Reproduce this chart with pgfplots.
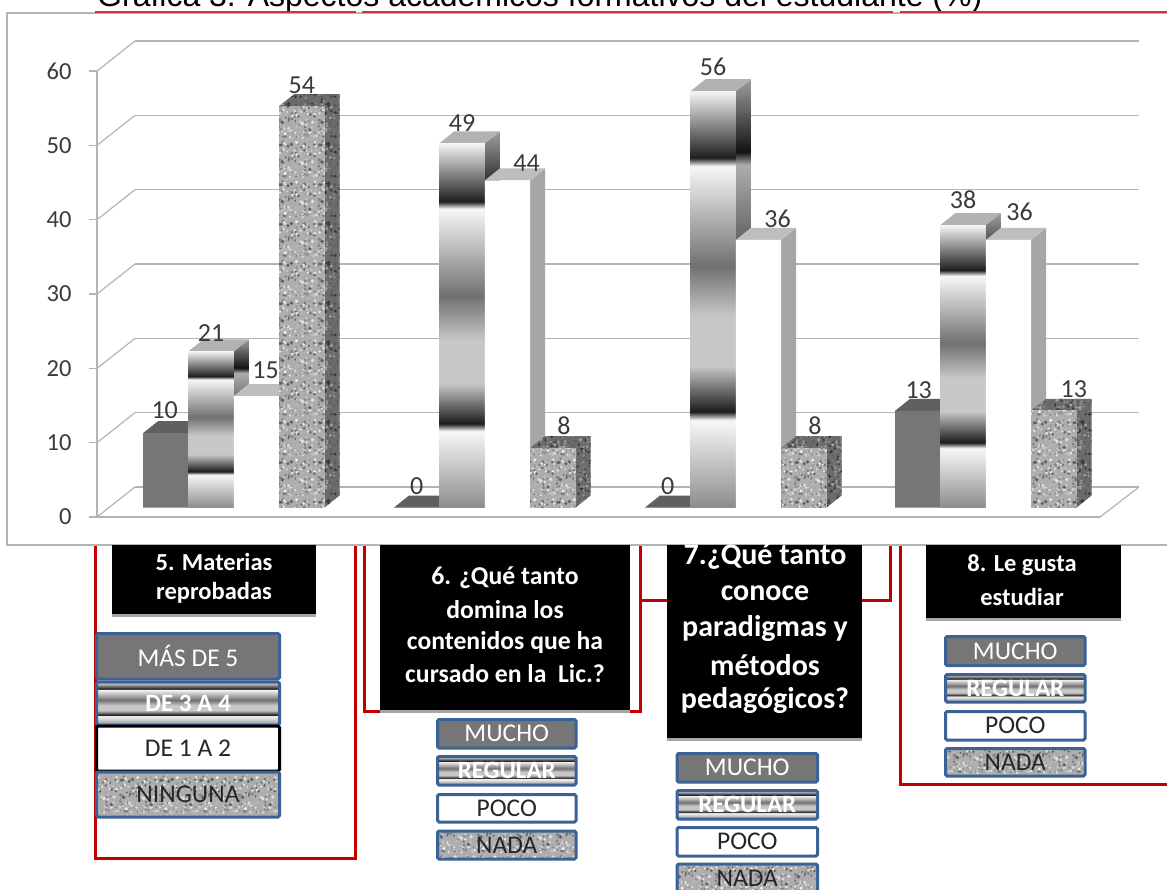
\documentclass[border=0pt]{standalone}
\usepackage{fontspec}
\setmainfont{Carlito}
\newfontfamily\titlefont{Liberation Sans}
\usepackage{pgfplots}
\pgfplotsset{compat=1.18}
\usetikzlibrary{patterns}

\definecolor{gridgray}{HTML}{B4B4B4}
\definecolor{labeltext}{HTML}{3A3A3A}
\definecolor{boxred}{HTML}{C00000}
\definecolor{boxblue}{HTML}{3A6296}
\definecolor{muchofront}{HTML}{767676}
\definecolor{muchotop}{HTML}{606060}
\definecolor{pocotop}{HTML}{BEBEBE}
\definecolor{pocoside}{HTML}{A6A6A6}
\definecolor{regulartop}{HTML}{B2B2B2}

% Banded metallic fill: the 25bp--75bp range is what covers the filled path
\pgfdeclareverticalshading{bands}{100bp}{%
  rgb(0bp)=(.55,.55,.55); rgb(25bp)=(.55,.55,.55);
  rgb(35.5bp)=(.97,.97,.97); rgb(36.5bp)=(.11,.11,.11);
  rgb(42bp)=(.78,.78,.78); rgb(48bp)=(.78,.78,.78);
  rgb(54bp)=(.44,.44,.44); rgb(66bp)=(.97,.97,.97);
  rgb(67bp)=(.12,.12,.12); rgb(75bp)=(.96,.96,.96); rgb(100bp)=(.96,.96,.96)}
\pgfdeclareverticalshading{bandsside}{100bp}{%
  rgb(0bp)=(.30,.30,.30); rgb(25bp)=(.30,.30,.30);
  rgb(35.5bp)=(.62,.62,.62); rgb(36.5bp)=(.08,.08,.08);
  rgb(42bp)=(.55,.55,.55); rgb(48bp)=(.55,.55,.55);
  rgb(54bp)=(.32,.32,.32); rgb(65bp)=(.68,.68,.68);
  rgb(66.5bp)=(.07,.07,.07); rgb(75bp)=(.62,.62,.62); rgb(100bp)=(.62,.62,.62)}

% Speckled stone tiles, a lighter one for fronts and a darker one for sides;
% the step is a little under the tile so that neighbouring tiles overlap
\newcommand{\stonetile}[5]{%
  \pgfdeclarepatterninherentlycolored{#1}{\pgfpointorigin}{\pgfqpoint{40pt}{40pt}}{\pgfqpoint{39.7pt}{39.7pt}}{%
    \pgfmathsetseed{#2}%
    \definecolor{stonebase}{gray}{#3}\pgfsetfillcolor{stonebase}%
    \pgfpathrectangle{\pgfpointorigin}{\pgfqpoint{40pt}{40pt}}\pgfusepath{fill}%
    \foreach \i in {1,...,170}{%
      \pgfmathsetmacro\sx{40*rnd}\pgfmathsetmacro\sy{40*rnd}%
      \pgfmathsetmacro\sr{.7+1.2*rnd}\pgfmathsetmacro\sg{#4+(#5-#4)*rnd}%
      \definecolor{stonespeck}{gray}{\sg}\pgfsetfillcolor{stonespeck}%
      \pgfpathcircle{\pgfqpoint{\sx pt}{\sy pt}}{\sr pt}\pgfusepath{fill}}%
  }}
\stonetile{granite}{41}{.68}{.36}{.96}
\stonetile{granitedark}{77}{.42}{.16}{.66}

\tikzset{
  muchofrontst/.style={fill=muchofront,draw=none},
  muchotopst/.style={fill=muchotop,draw=none},
  regfrontst/.style={shade,shading=bands,draw=none},
  regtopst/.style={fill=regulartop,draw=none},
  regsidest/.style={shade,shading=bandsside,draw=none},
  pocofrontst/.style={fill=white,draw=none},
  pocotopst/.style={fill=pocotop,draw=none},
  pocosidest/.style={fill=pocoside,draw=none},
  stonefrontst/.style={pattern=granite,draw=none},
  stonedarkst/.style={pattern=granitedark,draw=none},
}

% One bar with a top and a side face: left edge, value, three face styles,
% label shift sideways and upwards
\newcommand{\solidbar}[7]{%
  \pgfmathsetmacro\xb{#1+45.4}%
  \pgfmathsetmacro\xc{#1+60.4}%
  \pgfmathsetmacro\xa{#1+15}%
  \pgfmathsetmacro\yt{#2+1.615}%
  \pgfmathsetmacro\xl{#1+22.7+#6}%
  \addplot[#5] coordinates {(\xb,0)(\xb,#2)(\xc,\yt)(\xc,1.615)(\xb,0)};
  \addplot[#4] coordinates {(#1,#2)(\xa,\yt)(\xc,\yt)(\xb,#2)(#1,#2)};
  \addplot[#3] coordinates {(#1,0)(#1,#2)(\xb,#2)(\xb,0)(#1,0)};
  \edef\barlabel{\noexpand\node[inner sep=0pt,text=labeltext,font=\noexpand\fontsize{26}{26}\noexpand\selectfont,yshift=#7pt] at (axis cs:\xl,#2) {#2};}%
  \barlabel
}
\newcommand{\muchobar}[4]{\solidbar{#1}{#2}{muchofrontst}{muchotopst}{muchotopst}{#3}{#4}}
\newcommand{\regbar}[4]{\solidbar{#1}{#2}{regfrontst}{regtopst}{regsidest}{#3}{#4}}
\newcommand{\pocobar}[4]{\solidbar{#1}{#2}{pocofrontst}{pocotopst}{pocosidest}{#3}{#4}}
\newcommand{\stonebar}[4]{\solidbar{#1}{#2}{stonefrontst}{stonedarkst}{stonedarkst}{#3}{#4}}

% Legend entry: corners, box style, text style, text
\newcommand{\legbox}[7]{%
  \path[line width=3pt,rounded corners=1.5pt,#5] (#1,#2) rectangle (#3,#4);
  \node[inner sep=0pt,font=\fontsize{25.5}{25.5}\selectfont,#6] at ({(#1+#3)/2},{(#2+#4)/2}) {#7};
}
\newcommand{\blackbox}[5]{%
  \fill[gray!70] (#1,#4) rectangle (#3,#4+2.5);
  \fill[black] (#1,#2) rectangle (#3,#4);
  #5
}
\newcommand{\boxline}[4][24.5]{\node[inner sep=0pt,text=white,font=\fontsize{#1}{#1}\selectfont\bfseries] at (#2,#3) {#4};}

\begin{document}
\begin{tikzpicture}[x=1pt,y=-1pt]
\path[use as bounding box,clip] (0,0) rectangle (1167,889);
\fill[white] (0,0) rectangle (1167,889);

% Heading, cut by the upper edge of the sheet
\node[anchor=base west,inner sep=0pt,font=\titlefont\fontsize{32}{32}\selectfont,text=black] at (97,6)
  {Gráfica 3. Aspectos académicos formativos del estudiante (\%)};

% Red connector frames
\draw[boxred,line width=3pt] (95,540) -- (95,858) -- (355,858) -- (355,540);
\draw[boxred,line width=3pt] (364,540) -- (364,711) -- (640,711) -- (640,540);
\draw[boxred,line width=3pt] (640,600) -- (890,600) -- (890,540);
\draw[boxred,line width=3pt] (900,540) -- (900,784) -- (1170,784);

% Chart sheet
\draw[gridgray,fill=white,line width=1.2pt] (7,13) rectangle (1180,545);
\draw[red!55!gray,line width=2pt] (95,12) -- (356,12) (362,12) -- (893,12) (900,12) -- (1167,12);

% Back wall with its gridlines
\begin{axis}[
  at={(135pt,-487pt)},anchor=south west,scale only axis,width=1004pt,height=446pt,
  xmin=0,xmax=1,ymin=0,ymax=60,ytick={0,10,...,60},xtick=\empty,
  ymajorgrids,grid style={gridgray,line width=1.3pt},
  axis line style={draw=none},major tick length=0pt,yticklabels={},
]
\end{axis}

% Floor and wall edges joining the front axis to the back wall
\foreach \v in {0,10,...,60}
  \draw[gridgray,line width=1.2pt] (97,{517-\v*7.433}) -- (135,{487-\v*7.433});
\draw[gridgray,line width=1.2pt] (1100,517) -- (1139,487);

% Front axis with the percentage scale
\begin{axis}[
  at={(97pt,-517pt)},anchor=south west,scale only axis,width=1003pt,height=446pt,
  xmin=0,xmax=1,ymin=0,ymax=60,ytick={0,10,...,60},xtick=\empty,
  axis y line=left,axis x line=bottom,axis line style={gridgray,line width=1.2pt,-},
  tick style={gridgray,line width=1.2pt},tick align=outside,major tick length=8pt,
  yticklabel style={/pgf/number format/assume math mode=true,font=\fontsize{24.5}{24.5}\selectfont,text=labeltext,xshift=-14pt},
]
\end{axis}

% Bars of the four questions, on a baseline in front of the floor
\begin{axis}[
  at={(0pt,-507.5pt)},anchor=south west,scale only axis,width=1167pt,height=446pt,
  xmin=0,xmax=1167,ymin=0,ymax=60,axis lines=none,clip=false,
]
\muchobar{143}{10}{-1}{23}
\regbar{188.4}{21}{0}{18}
\pocobar{233.8}{15}{9}{26}
\stonebar{279.2}{54}{0}{21}

\muchobar{394}{0}{0}{21.5}
\regbar{439.4}{49}{0}{20}
\pocobar{484.8}{44}{19}{17}
\stonebar{530.2}{8}{11}{22}

\muchobar{645}{0}{0}{21.5}
\regbar{690.4}{56}{0}{24}
\pocobar{735.8}{36}{19}{21.5}
\stonebar{781.2}{8}{11}{22}

\muchobar{895}{13}{1}{21}
\regbar{940.4}{38}{0}{25}
\pocobar{985.8}{36}{11}{28}
\stonebar{1031.2}{13}{20}{22}
\end{axis}

% Question headings
\blackbox{112}{545}{316}{614}{%
  \boxline{214}{562}{5. Materias}\boxline{214}{593}{reprobadas}}
\blackbox{380}{545}{630}{710}{%
  \boxline[25.7]{505}{578}{6. ¿Qué tanto}\boxline[25.7]{505}{610}{domina los}%
  \boxline[25.7]{505}{642}{contenidos que ha}\boxline[25.7]{505}{674}{cursado en la\ \ Lic.?}}
\blackbox{667}{545}{862}{738}{%
  \boxline[30]{765}{557}{7.¿Qué tanto}\boxline[30]{765}{593}{conoce}%
  \boxline[30]{765}{629}{paradigmas y}\boxline[30]{765}{665}{métodos}\boxline[30]{765}{701}{pedagógicos?}}
\blackbox{925.5}{545}{1121}{618}{%
  \boxline{1022}{565}{8. Le gusta}\boxline{1022}{597}{estudiar}}

% Keys below each heading
\tikzset{
  kmucho/.style={fill=muchofront,draw=boxblue},
  kreg/.style={shade,shading=bands,draw=boxblue},
  kpoco/.style={fill=white,draw=boxblue},
  knada/.style={pattern=granite,draw=boxblue},
  tw/.style={text=white},
  twb/.style={text=white,font=\fontsize{25}{25}\selectfont\bfseries},
  td/.style={text=black!85},
}
\legbox{96.5}{633.5}{279.5}{679}{kmucho}{tw}{MÁS DE 5}
\legbox{96.5}{682}{279.5}{725}{kreg}{twb}{DE 3 A 4}
\legbox{96.5}{726}{279.5}{771}{fill=white,draw=black}{td}{DE 1 A 2}
\legbox{96.5}{772}{279.5}{817}{knada}{td}{NINGUNA}

\legbox{437.5}{719.5}{576}{748}{kmucho}{tw}{MUCHO}
\legbox{437.5}{756.5}{576}{785}{kreg}{twb}{REGULAR}
\legbox{437.5}{794.5}{576}{822}{kpoco}{td}{POCO}
\legbox{437.5}{831}{576}{859}{knada}{td}{NADA}

\legbox{677}{753.5}{817.5}{782}{kmucho}{tw}{MUCHO}
\legbox{677}{790.5}{817.5}{819}{kreg}{twb}{REGULAR}
\legbox{677}{827.5}{817.5}{856}{kpoco}{td}{POCO}
\legbox{677}{864}{817.5}{893}{knada}{td}{NADA}

\legbox{945.5}{636.5}{1085}{665.5}{kmucho}{tw}{MUCHO}
\legbox{945.5}{674.5}{1085}{702}{kreg}{twb}{REGULAR}
\legbox{945.5}{711.5}{1085}{740}{kpoco}{td}{POCO}
\legbox{945.5}{748.5}{1085}{776}{knada}{td}{NADA}
\end{tikzpicture}
\end{document}
